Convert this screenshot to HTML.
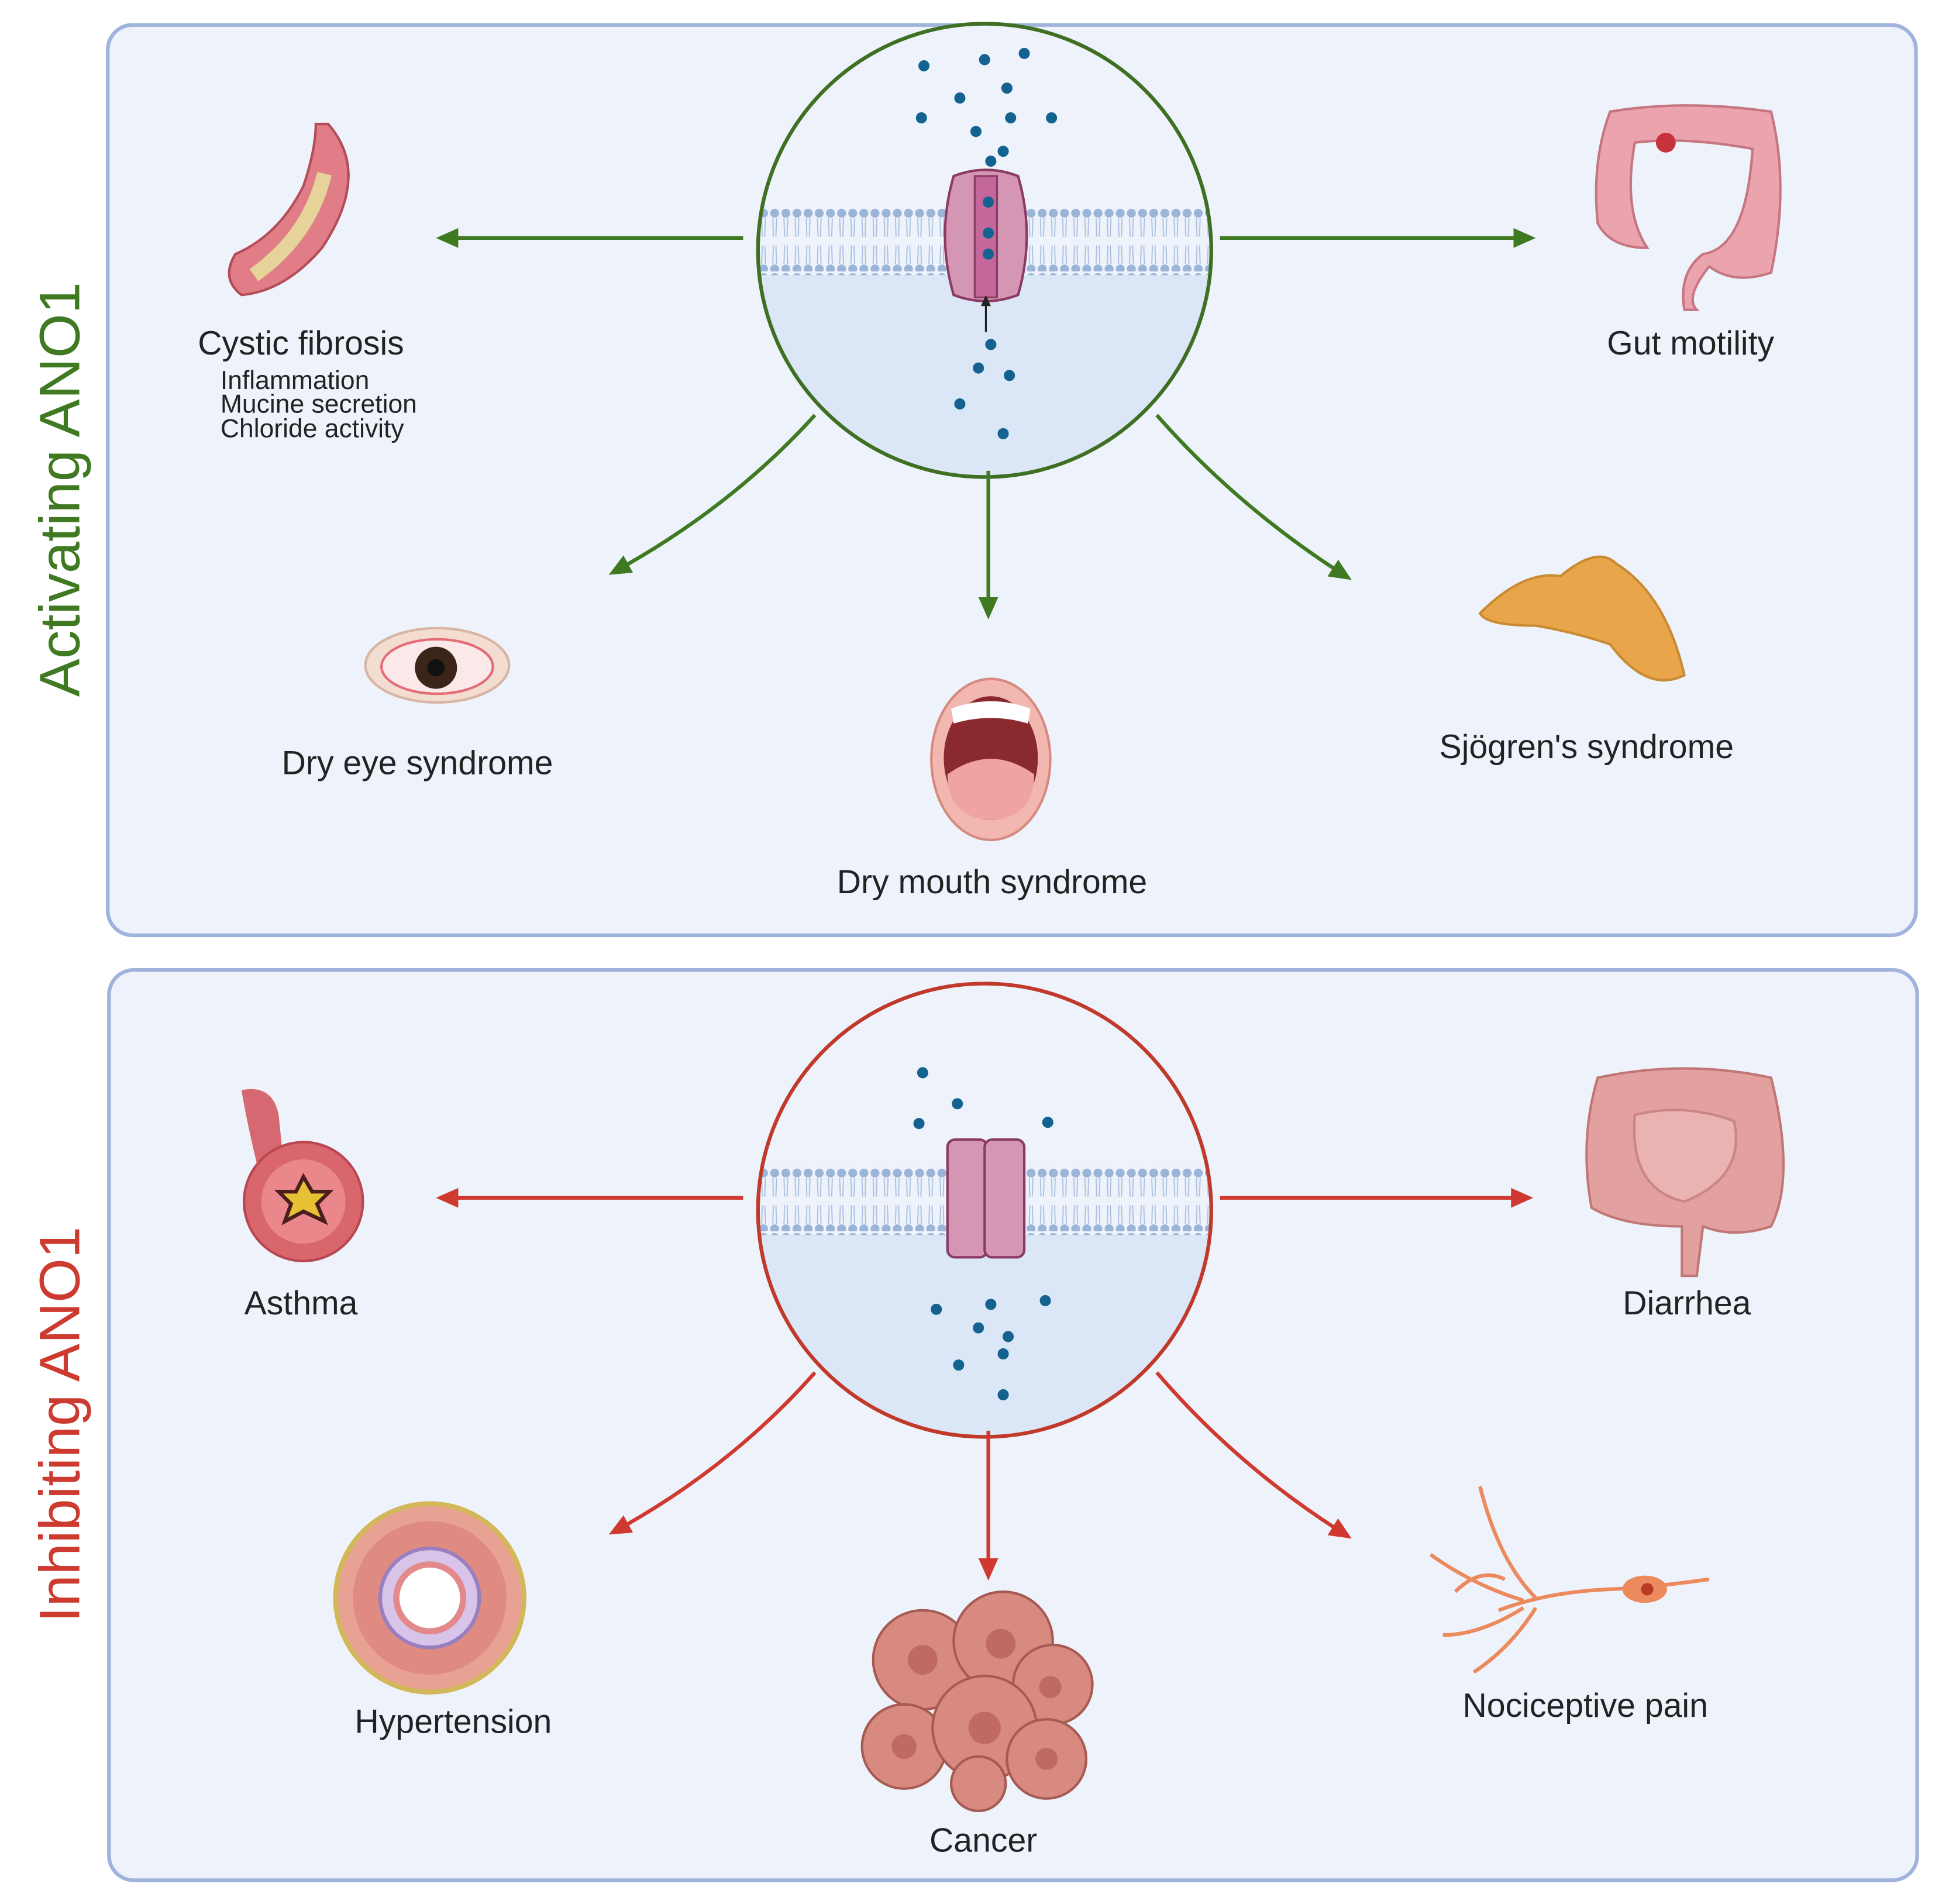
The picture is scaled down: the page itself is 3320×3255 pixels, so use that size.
<!DOCTYPE html>
<html><head><meta charset="utf-8"><style>
html,body{margin:0;padding:0;background:#fff;}
svg{display:block;}
text{font-family:"Liberation Sans",sans-serif;fill:#222;}
</style></head><body>
<svg width="3320" height="3255" viewBox="0 0 1568 1537" xmlns="http://www.w3.org/2000/svg">
<defs>
<marker id="ag" markerWidth="18" markerHeight="16" refX="14" refY="8" orient="auto" markerUnits="userSpaceOnUse" viewBox="0 0 18 16"><path d="M0,0 L18,8 L0,16 z" fill="#3f7a22"/></marker>
<marker id="ar" markerWidth="18" markerHeight="16" refX="14" refY="8" orient="auto" markerUnits="userSpaceOnUse" viewBox="0 0 18 16"><path d="M0,0 L18,8 L0,16 z" fill="#d0392f"/></marker>
<clipPath id="c1"><circle cx="795" cy="202" r="183"/></clipPath>
<clipPath id="c2"><circle cx="795" cy="977" r="183"/></clipPath>
<pattern id="mem" x="0" y="167" width="9" height="52" patternUnits="userSpaceOnUse">
<circle cx="4.5" cy="5" r="3.6" fill="#9bb5d8"/><circle cx="4.5" cy="50" r="3.6" fill="#9bb5d8"/>
<path d="M3,9 L3.5,24 M6,9 L5.5,24 M3,46 L3.5,31 M6,46 L5.5,31" stroke="#aabfdf" stroke-width="0.9"/>
</pattern>
<pattern id="mem2" x="0" y="942" width="9" height="52" patternUnits="userSpaceOnUse">
<circle cx="4.5" cy="5" r="3.6" fill="#9bb5d8"/><circle cx="4.5" cy="50" r="3.6" fill="#9bb5d8"/>
<path d="M3,9 L3.5,24 M6,9 L5.5,24 M3,46 L3.5,31 M6,46 L5.5,31" stroke="#aabfdf" stroke-width="0.9"/>
</pattern>
</defs>
<rect x="0" y="0" width="1568" height="1537" fill="#fff"/>
<rect x="87" y="20" width="1460" height="735" rx="20" fill="#eef3fb" stroke="#9fb3dc" stroke-width="3"/>
<rect x="88" y="783" width="1460" height="735" rx="20" fill="#eef3fb" stroke="#9fb3dc" stroke-width="3"/>
<text transform="translate(64,395) rotate(-90)" text-anchor="middle" font-size="46" style="fill:#3f7a22">Activating ANO1</text>
<text transform="translate(64,1150) rotate(-90)" text-anchor="middle" font-size="46" style="fill:#cc3a30">Inhibiting ANO1</text>

<!-- top circle -->
<g clip-path="url(#c1)">
<rect x="600" y="15" width="400" height="400" fill="#eef3fb"/>
<rect x="600" y="195" width="400" height="200" fill="#dbe7f6"/>
<rect x="600" y="167" width="400" height="55" fill="#eef3fb"/>
<rect x="612" y="167" width="370" height="55" fill="url(#mem)"/>
</g>
<circle cx="795" cy="202" r="183" fill="none" stroke="#3f6f22" stroke-width="3"/>
<path d="M770,142 Q796,132 822,142 Q836,190 822,238 Q796,248 770,238 Q756,190 770,142z" fill="#d596b4" stroke="#8a3a63" stroke-width="2"/>
<rect x="787" y="142" width="18" height="98" fill="#c4679a" stroke="#8a3a63" stroke-width="1.5"/>
<line x1="796" y1="268" x2="796" y2="243" stroke="#222" stroke-width="1.5"/><path d="M792,247 L796,238 L800,247z" fill="#222"/>
<g fill="#14628f">
<circle cx="746" cy="53" r="4.5"/><circle cx="795" cy="48" r="4.5"/><circle cx="827" cy="43" r="4.5"/><circle cx="775" cy="79" r="4.5"/><circle cx="813" cy="71" r="4.5"/><circle cx="744" cy="95" r="4.5"/><circle cx="816" cy="95" r="4.5"/><circle cx="849" cy="95" r="4.5"/><circle cx="788" cy="106" r="4.5"/><circle cx="810" cy="122" r="4.5"/><circle cx="800" cy="130" r="4.5"/>
<circle cx="798" cy="163" r="4.5"/><circle cx="798" cy="188" r="4.5"/><circle cx="798" cy="205" r="4.5"/>
<circle cx="800" cy="278" r="4.5"/><circle cx="790" cy="297" r="4.5"/><circle cx="815" cy="303" r="4.5"/><circle cx="775" cy="326" r="4.5"/><circle cx="810" cy="350" r="4.5"/>
</g>
<g stroke="#3f7a22" stroke-width="3" fill="none">
<line x1="600" y1="192" x2="356" y2="192" marker-end="url(#ag)"/>
<line x1="985" y1="192" x2="1236" y2="192" marker-end="url(#ag)"/>
<path d="M658,335 Q590,410 495,462" marker-end="url(#ag)"/>
<line x1="798" y1="380" x2="798" y2="496" marker-end="url(#ag)"/>
<path d="M934,335 Q1000,410 1088,466" marker-end="url(#ag)"/>
</g>
<!-- bottom circle -->
<g clip-path="url(#c2)">
<rect x="600" y="790" width="400" height="400" fill="#eef3fb"/>
<rect x="600" y="970" width="400" height="200" fill="#dbe7f6"/>
<rect x="600" y="942" width="400" height="55" fill="#eef3fb"/>
<rect x="612" y="942" width="370" height="55" fill="url(#mem2)"/>
</g>
<circle cx="795" cy="977" r="183" fill="none" stroke="#c0392b" stroke-width="3"/>
<rect x="765" y="920" width="32" height="95" rx="6" fill="#d596b4" stroke="#8a3a63" stroke-width="2"/>
<rect x="795" y="920" width="32" height="95" rx="6" fill="#d596b4" stroke="#8a3a63" stroke-width="2"/>
<g fill="#14628f">
<circle cx="745" cy="866" r="4.5"/><circle cx="773" cy="891" r="4.5"/><circle cx="742" cy="907" r="4.5"/><circle cx="846" cy="906" r="4.5"/>
<circle cx="756" cy="1057" r="4.5"/><circle cx="800" cy="1053" r="4.5"/><circle cx="844" cy="1050" r="4.5"/><circle cx="790" cy="1072" r="4.5"/><circle cx="814" cy="1079" r="4.5"/><circle cx="810" cy="1093" r="4.5"/><circle cx="774" cy="1102" r="4.5"/><circle cx="810" cy="1126" r="4.5"/>
</g>
<g stroke="#d0392f" stroke-width="3" fill="none">
<line x1="600" y1="967" x2="356" y2="967" marker-end="url(#ar)"/>
<line x1="985" y1="967" x2="1234" y2="967" marker-end="url(#ar)"/>
<path d="M658,1108 Q590,1185 495,1237" marker-end="url(#ar)"/>
<line x1="798" y1="1155" x2="798" y2="1272" marker-end="url(#ar)"/>
<path d="M934,1108 Q1000,1185 1088,1240" marker-end="url(#ar)"/>
</g>

<!-- illustrations top -->
<path d="M265,100 Q300,140 260,200 Q230,235 195,238 Q178,225 190,205 Q225,190 245,150 Q255,120 255,100z" fill="#e07d86" stroke="#b54c59" stroke-width="2"/>
<path d="M262,140 Q250,190 205,222" stroke="#e5d39a" stroke-width="12" fill="none"/>
<path d="M1300,90 Q1360,80 1430,90 Q1445,150 1430,220 Q1400,230 1380,215 Q1360,240 1370,250 L1360,250 Q1355,220 1375,205 Q1410,200 1415,120 Q1360,110 1320,115 Q1310,170 1330,200 Q1300,200 1290,180 Q1285,130 1300,90z" fill="#eba4ad" stroke="#c67581" stroke-width="2"/>
<circle cx="1345" cy="115" r="8" fill="#c8323c"/>
<ellipse cx="353" cy="537" rx="58" ry="30" fill="#f3dcd0" stroke="#d7b4a4" stroke-width="2"/>
<ellipse cx="353" cy="538" rx="45" ry="22" fill="#fbe9ea" stroke="#e46c76" stroke-width="2"/>
<circle cx="352" cy="539" r="17" fill="#3b2418"/><circle cx="352" cy="539" r="7" fill="#111"/>
<ellipse cx="800" cy="613" rx="48" ry="65" fill="#f2b7ae" stroke="#d58a80" stroke-width="2"/>
<ellipse cx="800" cy="612" rx="38" ry="50" fill="#8a2a2e"/>
<path d="M765,625 Q800,600 835,625 Q835,660 800,662 Q765,660 765,625z" fill="#f0a3a3"/>
<path d="M768,572 Q800,560 832,572 L830,584 Q800,575 770,584z" fill="#fff"/>
<path d="M1195,495 Q1230,460 1260,465 Q1290,440 1305,455 Q1345,480 1360,545 Q1330,560 1300,520 Q1270,510 1240,505 Q1200,505 1195,495z" fill="#e9a54a" stroke="#c98a34" stroke-width="2"/>

<!-- illustrations bottom -->
<path d="M195,880 Q220,875 225,900 L230,950 L210,950 Q200,910 195,880z" fill="#d56870"/>
<circle cx="245" cy="970" r="48" fill="#d9666d" stroke="#b8474f" stroke-width="2"/>
<circle cx="245" cy="970" r="34" fill="#e9878b"/>
<path d="M245,950 L252,962 L266,962 L256,972 L262,986 L245,978 L230,986 L235,972 L225,962 L239,962z" fill="#e8c033" stroke="#4a1e1e" stroke-width="3"/>
<path d="M1290,870 Q1360,855 1430,870 Q1450,950 1430,990 Q1400,1000 1375,990 L1370,1030 L1358,1030 L1358,990 Q1310,990 1285,975 Q1275,920 1290,870z" fill="#e2a09e" stroke="#c07775" stroke-width="2"/>
<path d="M1320,900 Q1360,890 1400,905 Q1410,950 1360,970 Q1315,960 1320,900z" fill="#eab3b2" stroke="#c98684" stroke-width="2"/>
<circle cx="347" cy="1290" r="76" fill="#e8a293" stroke="#d2b85a" stroke-width="4"/>
<circle cx="347" cy="1290" r="62" fill="#e08b82"/>
<circle cx="347" cy="1290" r="40" fill="#d8c4e8" stroke="#9a7fc0" stroke-width="3"/>
<circle cx="347" cy="1290" r="27" fill="#fff" stroke="#e3888b" stroke-width="5"/>
<g fill="#d88a80" stroke="#a55a52" stroke-width="2">
<circle cx="745" cy="1340" r="40"/><circle cx="810" cy="1325" r="40"/><circle cx="850" cy="1360" r="32"/><circle cx="730" cy="1410" r="34"/><circle cx="795" cy="1395" r="42"/><circle cx="845" cy="1420" r="32"/><circle cx="790" cy="1440" r="22"/>
</g>
<g fill="#c06b61"><circle cx="745" cy="1340" r="12"/><circle cx="808" cy="1327" r="12"/><circle cx="795" cy="1395" r="13"/><circle cx="730" cy="1410" r="10"/><circle cx="848" cy="1362" r="9"/><circle cx="845" cy="1420" r="9"/></g>
<g stroke="#ec8a5e" stroke-width="3" fill="none">
<path d="M1210,1300 Q1250,1285 1300,1283 Q1330,1282 1380,1275"/>
<path d="M1240,1290 Q1210,1260 1195,1200"/><path d="M1230,1292 Q1190,1280 1155,1255"/><path d="M1230,1298 Q1195,1320 1165,1320"/><path d="M1240,1298 Q1220,1330 1190,1350"/><path d="M1215,1275 Q1195,1265 1175,1285"/>
</g>
<ellipse cx="1328" cy="1283" rx="18" ry="11" fill="#ec8a5e"/><circle cx="1330" cy="1283" r="5" fill="#b83b26"/>

<!-- labels -->
<g font-size="27" text-anchor="middle">
<text x="243" y="286">Cystic fibrosis</text>
<text x="1365" y="286">Gut motility</text>
<text x="337" y="625">Dry eye syndrome</text>
<text x="801" y="721">Dry mouth syndrome</text>
<text x="1281" y="612">Sjögren's syndrome</text>
<text x="243" y="1061">Asthma</text>
<text x="1362" y="1061">Diarrhea</text>
<text x="366" y="1399">Hypertension</text>
<text x="794" y="1495">Cancer</text>
<text x="1280" y="1386">Nociceptive pain</text>
</g>
<g font-size="21">
<text x="178" y="314">Inflammation</text>
<text x="178" y="333">Mucine secretion</text>
<text x="178" y="353">Chloride activity</text>
</g>
</svg>
</body></html>
